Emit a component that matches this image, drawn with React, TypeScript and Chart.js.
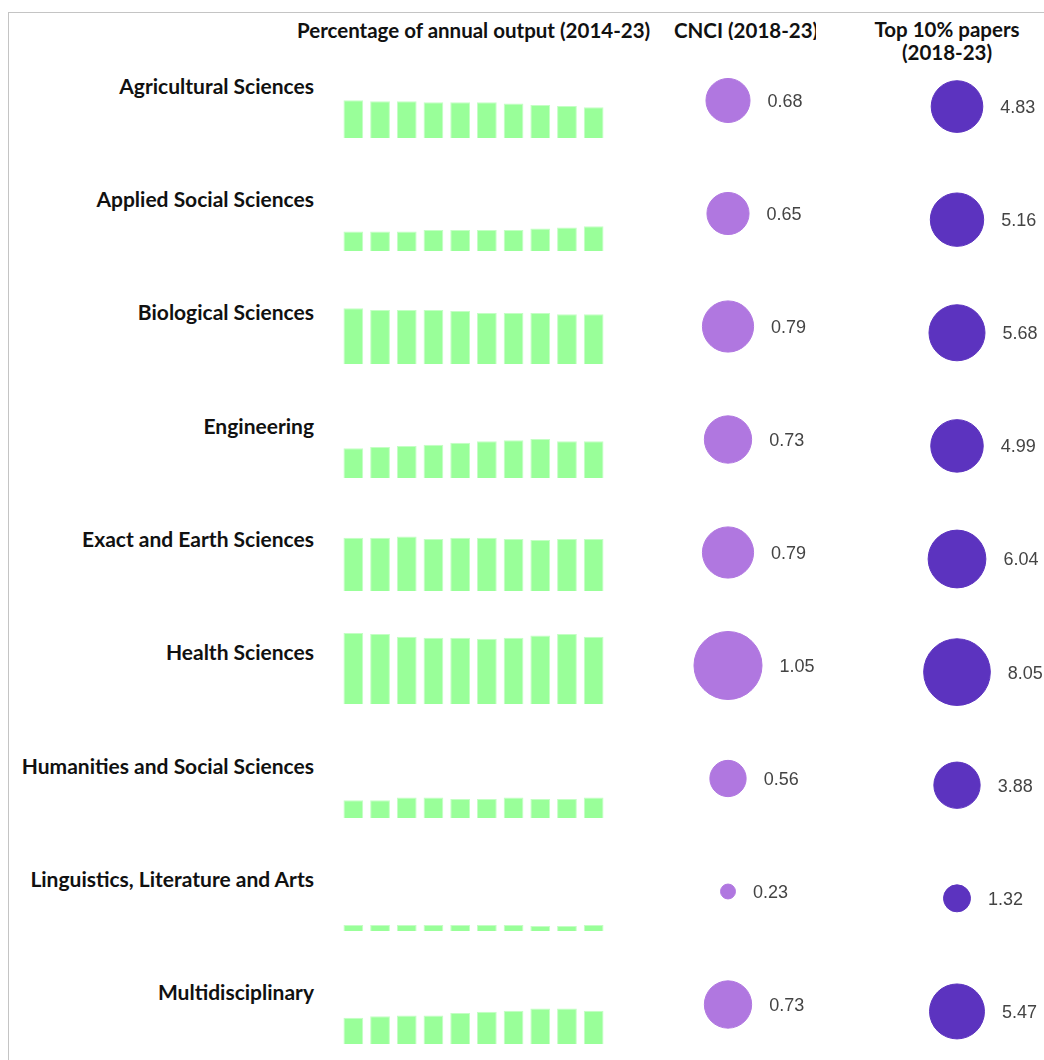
import React, { useEffect, useRef } from "react";
import { Chart, registerables } from "chart.js";

Chart.register(...registerables);

// ---------- DATA ----------
const categories = [
  "Agricultural Sciences",
  "Applied Social Sciences",
  "Biological Sciences",
  "Engineering",
  "Exact and Earth Sciences",
  "Health Sciences",
  "Humanities and Social Sciences",
  "Linguistics, Literature and Arts",
  "Multidisciplinary",
];

const years = ["2014", "2015", "2016", "2017", "2018", "2019", "2020", "2021", "2022", "2023"];

// Percentage of annual output (2014-23)
const agricultural = [13.5, 13.1, 13.1, 12.8, 12.8, 12.8, 12.3, 11.8, 11.4, 11.0];
const appliedSocial = [7.0, 7.0, 7.0, 7.5, 7.5, 7.5, 7.5, 8.0, 8.4, 8.8];
const biological = [19.9, 19.3, 19.3, 19.3, 18.9, 18.2, 18.2, 18.2, 17.8, 17.8];
const engineering = [10.6, 11.1, 11.4, 11.9, 12.6, 13.1, 13.5, 13.9, 13.1, 13.1];
const exactEarth = [19.0, 19.0, 19.5, 18.6, 19.0, 19.0, 18.6, 18.2, 18.6, 18.6];
const health = [25.4, 25.0, 24.0, 23.7, 23.7, 23.3, 23.7, 24.5, 25.0, 24.0];
const humanities = [6.3, 6.3, 7.3, 7.3, 6.8, 6.8, 7.3, 6.8, 6.8, 7.3];
const linguistics = [2.1, 2.1, 2.1, 2.1, 2.1, 2.1, 2.1, 1.8, 1.8, 2.1];
const multidisciplinary = [9.4, 9.9, 10.2, 10.2, 11.1, 11.5, 11.9, 12.7, 12.7, 11.9];

// CNCI (2018-23)
const cnci = [0.68, 0.65, 0.79, 0.73, 0.79, 1.05, 0.56, 0.23, 0.73];
// Top 10% papers (2018-23)
const top10 = [4.83, 5.16, 5.68, 4.99, 6.04, 8.05, 3.88, 1.32, 5.47];

const headerOutput = "Percentage of annual output (2014-23)";
const headerCnci = "CNCI (2018-23)";
const headerTop = ["Top 10% papers", "(2018-23)"];

const outputSeries = [
  agricultural,
  appliedSocial,
  biological,
  engineering,
  exactEarth,
  health,
  humanities,
  linguistics,
  multidisciplinary,
];

// ---------- LAYOUT / STYLE ----------
const BAR_COLOR = "#99ff99";
const BAR_BORDER = "#c4ffc4";
const CNCI_COLOR = "#b077e0";
const TOP_COLOR = "#5c33bf";
const LABEL_FONT = "Lato, 'Open Sans', sans-serif";
const NUM_FONT = "'Liberation Sans', Arial, sans-serif";

const ROW_PITCH = 113.3;
const BAR_LEFT = 340;
const BAR_WIDTH = 267;
const BAR_HEIGHT = 84;
const BAR_MAX = 30;
const FIRST_BASELINE = 137.7;

function SparkBars({ values, top }: { values: number[]; top: number }) {
  const ref = useRef<HTMLCanvasElement | null>(null);
  useEffect(() => {
    if (!ref.current) return;
    const chart = new Chart(ref.current, {
      type: "bar",
      data: {
        labels: years,
        datasets: [
          {
            data: values,
            backgroundColor: BAR_COLOR,
            borderColor: BAR_BORDER,
            borderWidth: 1,
            barPercentage: 0.74,
            categoryPercentage: 1,
          },
        ],
      },
      options: {
        responsive: false,
        animation: false,
        events: [],
        layout: { padding: 0, autoPadding: false },
        plugins: { legend: { display: false }, tooltip: { enabled: false } },
        scales: {
          x: { display: false },
          y: { display: false, min: 0, max: BAR_MAX },
        },
      },
    });
    return () => chart.destroy();
  }, [values]);
  return (
    <canvas
      ref={ref}
      width={BAR_WIDTH}
      height={BAR_HEIGHT}
      style={{ position: "absolute", left: BAR_LEFT, top, width: BAR_WIDTH, height: BAR_HEIGHT }}
    />
  );
}

function BubbleColumn({
  values,
  color,
  radius,
  left,
  top,
  pitch,
}: {
  values: number[];
  color: string;
  radius: (v: number) => number;
  left: number;
  top: number;
  pitch: number;
}) {
  const ref = useRef<HTMLCanvasElement | null>(null);
  const width = 200;
  const height = Math.round(pitch * categories.length);
  useEffect(() => {
    if (!ref.current) return;
    const labelPlugin = {
      id: "valueLabels",
      afterDatasetsDraw(chart: any) {
        const ctx = chart.ctx;
        const meta = chart.getDatasetMeta(0);
        ctx.save();
        ctx.font = `18px ${NUM_FONT}`;
        ctx.fillStyle = "#444444";
        ctx.textAlign = "left";
        ctx.textBaseline = "middle";
        meta.data.forEach((el: any, i: number) => {
          const r = el.options.radius;
          ctx.fillText(values[i].toFixed(2), el.x + r + 17.5, el.y + 1.5);
        });
        ctx.restore();
      },
    };
    const chart = new Chart(ref.current, {
      type: "bubble",
      data: {
        datasets: [
          {
            data: categories.map((c, i) => ({ x: 0, y: c as any, r: radius(values[i]) })),
            backgroundColor: color,
            borderColor: color,
            borderWidth: 1,
            clip: false as any,
          },
        ],
      },
      options: {
        responsive: false,
        animation: false,
        events: [],
        layout: { padding: 0, autoPadding: false },
        plugins: { legend: { display: false }, tooltip: { enabled: false } },
        scales: {
          x: { type: "linear", display: false, min: -1, max: 1 },
          y: { type: "category", labels: categories, offset: true, display: false },
        },
      },
      plugins: [labelPlugin],
    });
    return () => chart.destroy();
  }, [values]);
  return (
    <canvas
      ref={ref}
      width={width}
      height={height}
      style={{ position: "absolute", left, top, width, height }}
    />
  );
}

export default function App() {
  const headerStyle: React.CSSProperties = {
    position: "absolute",
    fontFamily: LABEL_FONT,
    fontWeight: 700,
    fontSize: 20.5,
    lineHeight: "20.5px",
    color: "#111",
    whiteSpace: "nowrap",
  };
  return (
    <div
      style={{
        position: "fixed",
        left: 0,
        top: 0,
        width: 1044,
        height: 1060,
        overflow: "hidden",
        background: "#fff",
      }}
    >
      <div
        style={{
          position: "absolute",
          left: 8,
          top: 12,
          width: 1100,
          height: 1100,
          borderTop: "1px solid #c4c4c4",
          borderLeft: "1px solid #c4c4c4",
        }}
      />
      <div style={{ ...headerStyle, left: 297, top: 19.5 }}>{headerOutput}</div>
      <div style={{ ...headerStyle, left: 674, top: 19.5, width: 142, overflow: "hidden" }}>{headerCnci}</div>
      <div
        style={{
          ...headerStyle,
          left: 847,
          top: 18,
          width: 200,
          textAlign: "center",
          lineHeight: "23.3px",
        }}
      >
        <div>{headerTop[0]}</div>
        <div>{headerTop[1]}</div>
      </div>

      {categories.map((c, i) => (
        <div
          key={c}
          style={{
            position: "absolute",
            right: 1044 - 314,
            top: 74.7 + ROW_PITCH * i,
            fontFamily: LABEL_FONT,
            fontWeight: 700,
            fontSize: 21,
            lineHeight: "21px",
            color: "#111",
            whiteSpace: "nowrap",
            textAlign: "right",
          }}
        >
          {c}
        </div>
      ))}

      {outputSeries.map((s, i) => (
        <SparkBars
          key={categories[i]}
          values={s}
          top={Math.round(FIRST_BASELINE + ROW_PITCH * i - BAR_HEIGHT)}
        />
      ))}

      <BubbleColumn
        values={cnci}
        color={CNCI_COLOR}
        radius={(v) => v * 32.4}
        left={628}
        top={44}
        pitch={113.0}
      />
      <BubbleColumn
        values={top10}
        color={TOP_COLOR}
        radius={(v) => Math.sqrt(v) * 11.75}
        left={857}
        top={50}
        pitch={113.1}
      />
    </div>
  );
}
